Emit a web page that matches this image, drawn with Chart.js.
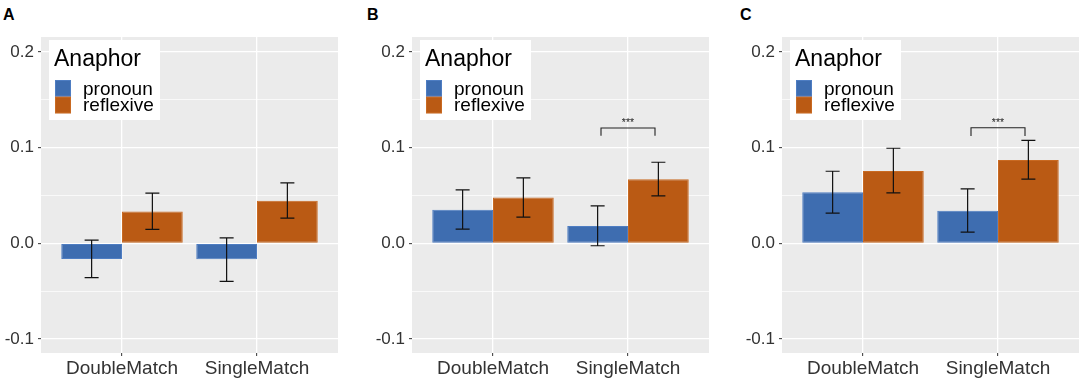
<!DOCTYPE html>
<html>
<head>
<meta charset="utf-8">
<script src="https://cdn.jsdelivr.net/npm/chart.js@4.4.0/dist/chart.umd.min.js"></script>
<style>
  html, body { margin: 0; padding: 0; background: #ffffff; }
  body { width: 1084px; height: 380px; position: relative; overflow: hidden; font-family: "Liberation Sans", Arial, sans-serif; }
  .panel { position: absolute; top: 0; width: 340px; height: 380px; }
  .tag { position: absolute; top: 6px; font: bold 16px "Liberation Sans", Arial, sans-serif; color: #000; }
</style>
</head>
<body>
<div class="tag" style="left:3px">A</div>
<div class="tag" style="left:367px">B</div>
<div class="tag" style="left:740px">C</div>
<div class="panel" style="left:0px"><canvas id="c0" width="340" height="380"></canvas></div>
<div class="panel" style="left:370.7px"><canvas id="c1" width="340" height="380"></canvas></div>
<div class="panel" style="left:741.3px"><canvas id="c2" width="340" height="380"></canvas></div>
<script>
// ---- data ----
const categories = ['DoubleMatch', 'SingleMatch'];
const seriesNames = ['pronoun', 'reflexive'];
const legendTitle = 'Anaphor';
const yTickValues = [-0.1, -0.05, 0, 0.05, 0.1, 0.15, 0.2];
const yMajorTicks = [-0.1, 0, 0.1, 0.2];

// per panel A, B, C ; per category DoubleMatch, SingleMatch
const pronounMean = [[-0.0164, -0.0167], [0.0350, 0.0180], [0.0534, 0.0340]];
const pronounLow  = [[-0.0358, -0.0396], [0.0149, -0.0025], [0.0316, 0.0118]];
const pronounHigh = [[0.0034, 0.0058], [0.0558, 0.0392], [0.0753, 0.0569]];
const reflexiveMean = [[0.0333, 0.0444], [0.0479, 0.0670], [0.0756, 0.0871]];
const reflexiveLow  = [[0.0146, 0.0264], [0.0274, 0.0496], [0.0527, 0.0670]];
const reflexiveHigh = [[0.0524, 0.0631], [0.0683, 0.0847], [0.0993, 0.1076]];

// significance annotations per panel: [from x, to x, bar y, tip y, label] (null = none)
const signifA = null;
const signifB = [1.8, 2.2, 0.1205, 0.1125, '***'];
const signifC = [1.8, 2.2, 0.1208, 0.1120, '***'];
const signifs = [signifA, signifB, signifC];

// ---- styles ----
const BLUE = '#3E6DB0', BLUE_BORDER = '#4E7DC2';
const ORANGE = '#BA5A14', ORANGE_BORDER = '#C96A22';
const FONT = '"Liberation Sans", Arial, sans-serif';

const isMajor = v => yMajorTicks.some(m => Math.abs(m - v) < 1e-9);

const panelBg = {
  id: 'panelBg',
  beforeDraw(chart) {
    const a = chart.chartArea, ctx = chart.ctx;
    ctx.save();
    ctx.fillStyle = '#EBEBEB';
    ctx.fillRect(a.left, a.top, a.right - a.left, a.bottom - a.top);
    ctx.restore();
  }
};

const errorBars = {
  id: 'errorBars',
  afterDatasetsDraw(chart, args, opts) {
    const ctx = chart.ctx, ys = chart.scales.y;
    ctx.save();
    ctx.strokeStyle = '#111';
    ctx.lineWidth = 1.2;
    chart.data.datasets.forEach((ds, i) => {
      const meta = chart.getDatasetMeta(i);
      meta.data.forEach((el, j) => {
        const x = el.x;
        const yl = ys.getPixelForValue(ds.errLow[j]);
        const yh = ys.getPixelForValue(ds.errHigh[j]);
        const hw = 7;
        ctx.beginPath();
        ctx.moveTo(x, yl); ctx.lineTo(x, yh);
        ctx.moveTo(x - hw, yl); ctx.lineTo(x + hw, yl);
        ctx.moveTo(x - hw, yh); ctx.lineTo(x + hw, yh);
        ctx.stroke();
      });
    });
    const s = opts.signif;
    if (s) {
      const xs = chart.scales.x;
      const x1 = xs.getPixelForValue(s[0]), x2 = xs.getPixelForValue(s[1]);
      const yb = ys.getPixelForValue(s[2]), yt = ys.getPixelForValue(s[3]);
      ctx.strokeStyle = '#222';
      ctx.lineWidth = 1.1;
      ctx.beginPath();
      ctx.moveTo(x1, yt); ctx.lineTo(x1, yb); ctx.lineTo(x2, yb); ctx.lineTo(x2, yt);
      ctx.stroke();
      ctx.fillStyle = '#222';
      ctx.font = '10.5px ' + FONT;
      ctx.textAlign = 'center';
      ctx.textBaseline = 'alphabetic';
      ctx.fillText(s[4], (x1 + x2) / 2, yb - 2);
    }
    ctx.restore();
  }
};

const insideLegend = {
  id: 'insideLegend',
  afterDraw(chart) {
    const a = chart.chartArea, ctx = chart.ctx;
    const L = a.left + 8, T = a.top + 3;
    ctx.save();
    ctx.fillStyle = '#ffffff';
    ctx.fillRect(L, T, 111, 80);
    ctx.fillStyle = '#000';
    ctx.textAlign = 'left';
    ctx.textBaseline = 'alphabetic';
    ctx.font = '23px ' + FONT;
    ctx.fillText(legendTitle, L + 5, T + 26);
    chart.data.datasets.forEach((ds, i) => {
      const ky = T + 40 + i * 16.8;
      ctx.fillStyle = ds.backgroundColor;
      ctx.fillRect(L + 6, ky, 16, 16.5);
      ctx.strokeStyle = ds.borderColor;
      ctx.lineWidth = 1;
      ctx.strokeRect(L + 6.5, ky + 0.5, 15, 15.5);
      ctx.fillStyle = '#000';
      ctx.font = '19px ' + FONT;
      ctx.fillText(ds.label, L + 34, ky + 14.5);
    });
    ctx.restore();
  }
};

function makeChart(id, p) {
  const toPts = arr => arr.map((v, j) => ({ x: j + 1, y: v }));
  new Chart(document.getElementById(id), {
    type: 'bar',
    data: {
      datasets: [
        { label: seriesNames[0], data: toPts(pronounMean[p]), errLow: pronounLow[p], errHigh: pronounHigh[p],
          backgroundColor: BLUE, borderColor: BLUE_BORDER, borderWidth: 1, borderSkipped: false },
        { label: seriesNames[1], data: toPts(reflexiveMean[p]), errLow: reflexiveLow[p], errHigh: reflexiveHigh[p],
          backgroundColor: ORANGE, borderColor: ORANGE_BORDER, borderWidth: 1, borderSkipped: false }
      ]
    },
    options: {
      responsive: false,
      animation: false,
      events: [],
      categoryPercentage: 0.9,
      barPercentage: 1.0,
      layout: { padding: { top: 37, left: 0, right: 2, bottom: 0 } },
      plugins: { legend: { display: false }, tooltip: { enabled: false }, errorBars: { signif: signifs[p] } },
      scales: {
        x: {
          type: 'linear', min: 0.4, max: 2.6, offset: false,
          border: { display: false },
          afterBuildTicks: s => { s.ticks = categories.map((c, j) => ({ value: j + 1 })); },
          afterFit: s => { s.height = 27; },
          grid: { offset: false, color: '#ffffff', lineWidth: 1.3, tickColor: '#333333', tickLength: 3, tickWidth: 1 },
          ticks: { padding: 1, color: '#333333', font: { family: FONT, size: 19 },
                   callback: v => categories[Math.round(v) - 1] || '', maxRotation: 0, autoSkip: false }
        },
        y: {
          min: -0.1145, max: 0.2155,
          border: { display: false },
          afterBuildTicks: s => { s.ticks = yTickValues.map(v => ({ value: v })); },
          afterFit: s => { s.width = 41; },
          grid: {
            color: '#ffffff',
            lineWidth: c => isMajor(c.tick.value) ? 1.3 : 0.7,
            tickColor: c => isMajor(c.tick.value) ? '#333333' : 'rgba(0,0,0,0)',
            tickWidth: 1, tickLength: 3
          },
          ticks: { padding: 4, color: '#333333', font: { family: FONT, size: 17 }, autoSkip: false,
                   callback: v => isMajor(v) ? v.toFixed(1) : '' }
        }
      }
    },
    plugins: [panelBg, errorBars, insideLegend]
  });
}
makeChart('c0', 0);
makeChart('c1', 1);
makeChart('c2', 2);
</script>
</body>
</html>
